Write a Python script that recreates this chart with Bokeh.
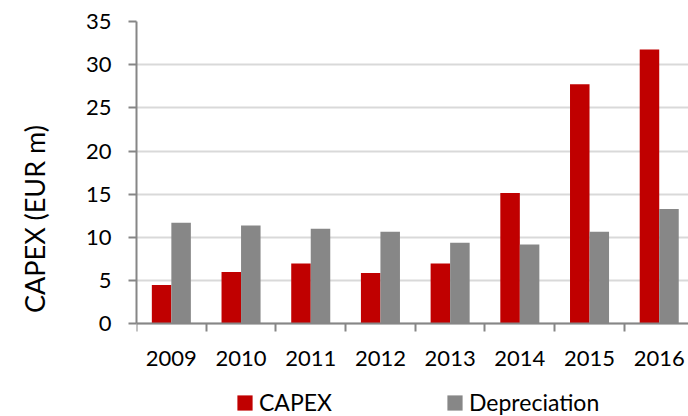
from bokeh.plotting import figure
from bokeh.models import Range1d, FixedTicker, Legend, LegendItem, ColumnDataSource, LinearAxis
from bokeh.transform import dodge
from bokeh.embed import file_html
from bokeh.resources import INLINE

years = [2009, 2010, 2011, 2012, 2013, 2014, 2015, 2016]
capex = [4.5, 6.0, 7.0, 5.9, 7.0, 15.15, 27.75, 31.75]
depreciation = [11.7, 11.4, 11.0, 10.65, 9.4, 9.2, 10.65, 13.3]
y_ticks = [0, 5, 10, 15, 20, 25, 30, 35]
series_names = ["CAPEX", "Depreciation"]
y_title = "CAPEX (EUR m)"

FONT = "Lato"
RED = "#C00000"
GREY = "#878787"
AXIS = "#868686"

src = ColumnDataSource(dict(year=years, capex=capex, dep=depreciation))

# frame extends below zero so the legend can sit inside it
p = figure(width=688, height=416, output_backend="svg", toolbar_location=None,
           x_range=Range1d(years[0] - 0.5, years[-1] + 0.42), y_range=Range1d(-10.72, 35),
           min_border_left=136, min_border_right=0, min_border_top=21, min_border_bottom=0)
p.outline_line_color = None
p.background_fill_color = "white"
p.border_fill_color = "white"

r1 = p.vbar(x=dodge("year", -0.14), top="capex", width=0.28, source=src,
            fill_color=RED, line_color=None)
r2 = p.vbar(x=dodge("year", 0.14), top="dep", width=0.28, source=src,
            fill_color=GREY, line_color=None)

# y axis
p.yaxis.ticker = FixedTicker(ticks=y_ticks)
p.yaxis.bounds = (0, 35)
p.yaxis.axis_line_color = AXIS
p.yaxis.axis_line_width = 2
p.yaxis.major_tick_line_color = AXIS
p.yaxis.major_tick_line_width = 2
p.yaxis.major_tick_in = 0
p.yaxis.major_tick_out = 8
p.yaxis.minor_tick_line_color = None
p.yaxis.major_label_standoff = 17
p.yaxis.major_label_text_font = FONT
p.yaxis.major_label_text_font_size = "22px"
p.yaxis.major_label_text_color = "black"

# separate label-only axis for the y title
lab_axis = LinearAxis(ticker=FixedTicker(ticks=[]), bounds=(-9.7, 35),
                      axis_line_color=None, major_tick_line_color=None,
                      minor_tick_line_color=None,
                      axis_label=y_title, axis_label_standoff=32,
                      axis_label_text_font=FONT, axis_label_text_font_size="27px",
                      axis_label_text_font_style="normal", axis_label_text_color="black")
p.add_layout(lab_axis, "left")

# x axis drawn at y = 0
p.xaxis.fixed_location = 0
p.xaxis.ticker = FixedTicker(ticks=years, minor_ticks=[y - 0.5 for y in years] + [years[-1] + 0.5])
p.xaxis.axis_line_color = AXIS
p.xaxis.axis_line_width = 2
p.xaxis.major_tick_line_color = None
p.xaxis.major_tick_in = 0
p.xaxis.major_tick_out = 0
p.xaxis.minor_tick_line_color = AXIS
p.xaxis.minor_tick_line_width = 2
p.xaxis.minor_tick_in = 0
p.xaxis.minor_tick_out = 8
p.xaxis.major_label_standoff = 19
p.xaxis.major_label_text_font = FONT
p.xaxis.major_label_text_font_size = "22px"
p.xaxis.major_label_text_color = "black"

p.xgrid.grid_line_color = None
p.ygrid.ticker = FixedTicker(ticks=y_ticks)
p.ygrid.grid_line_color = "#d9d9d9"
p.ygrid.grid_line_width = 2

legend = Legend(items=[LegendItem(label=series_names[0], renderers=[r1]),
                       LegendItem(label=series_names[1], renderers=[r2])],
                orientation="horizontal", location=(99, 0),
                glyph_width=19, glyph_height=19, label_standoff=5,
                label_width=186, spacing=0, padding=0, margin=0,
                border_line_color=None, background_fill_alpha=0,
                label_text_font=FONT, label_text_font_size="23px",
                label_text_color="black")
p.add_layout(legend, "center")

open("out.html", "w").write(file_html(p, INLINE))
